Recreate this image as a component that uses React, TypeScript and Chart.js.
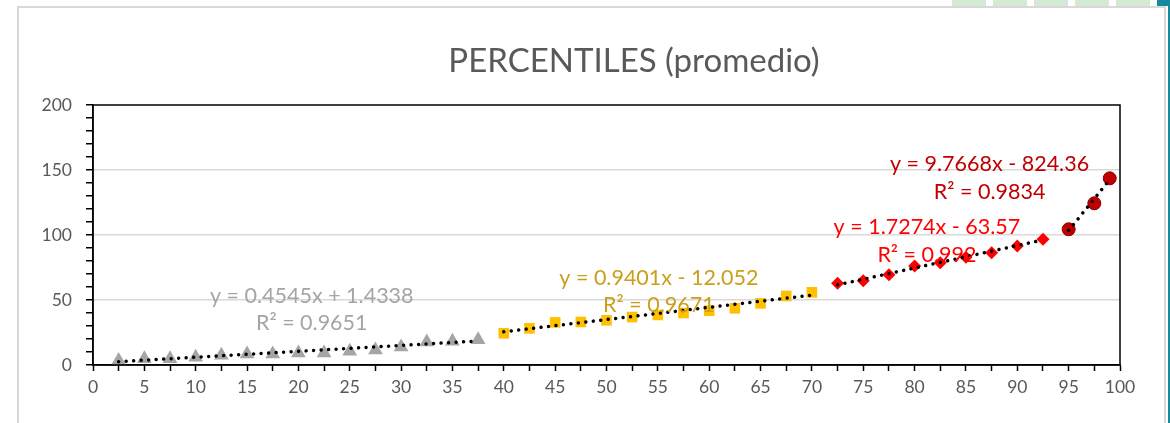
import React, { useEffect, useRef } from "react";
import { Chart, registerables } from "chart.js";

Chart.register(...registerables);

// ---- data ----
const grayX = [2.5, 5, 7.5, 10, 12.5, 15, 17.5, 20, 22.5, 25, 27.5, 30, 32.5, 35, 37.5];
const grayY = [3.4, 4.9, 4.9, 5.9, 7.5, 8.5, 8.5, 9.3, 9.3, 10.6, 11.6, 13.9, 17.7, 18.2, 19.5];
const goldX = [40, 42.5, 45, 47.5, 50, 52.5, 55, 57.5, 60, 62.5, 65, 67.5, 70];
const goldY = [24.4, 28.2, 32.8, 33.1, 34.4, 36.9, 38.5, 40, 41.8, 43.6, 47.4, 53.1, 55.9];
const redX = [72.5, 75, 77.5, 80, 82.5, 85, 87.5, 90, 92.5];
const redY = [62.8, 64.9, 69.5, 76.2, 78.7, 82.8, 86.4, 91.5, 96.7];
const darkX = [95, 97.5, 99];
const darkY = [104.4, 124.4, 143.6];

// trendline coefficients as printed on the chart
const trendSlopes = [0.4545, 0.9401, 1.7274, 9.7668];
const trendIntercepts = [1.4338, -12.052, -63.57, -824.36];
const trendEquations = ["y = 0.4545x + 1.4338", "y = 0.9401x - 12.052", "y = 1.7274x - 63.57", "y = 9.7668x - 824.36"];
const trendR2 = ["R² = 0.9651", "R² = 0.9671", "R² = 0.992", "R² = 0.9834"];

const titleText = "PERCENTILES (promedio)";

// ---- styling ----
const FONT = "Lato, 'Open Sans', sans-serif";
const seriesColors = ["#A5A5A5", "#FFC000", "#FF0000", "#C00000"];
const labelColors = ["#A5A5A5", "#C9A01C", "#FF0000", "#C00000"];
// label anchors (data units)
const labelAnchors = [
  { x: 21.3, y1: 53, y2: 32.3 },
  { x: 55.1, y1: 66.9, y2: 46.2 },
  { x: 81.2, y1: 106.2, y2: 84.6 },
  { x: 87.3, y1: 154.6, y2: 133.3 },
];

const seriesX = [grayX, goldX, redX, darkX];
const seriesY = [grayY, goldY, redY, darkY];

function trendPoints(i: number) {
  const xs = seriesX[i];
  const a = xs[0];
  const b = xs[xs.length - 1];
  return [
    { x: a, y: trendSlopes[i] * a + trendIntercepts[i] },
    { x: b, y: trendSlopes[i] * b + trendIntercepts[i] },
  ];
}

function pts(xs: number[], ys: number[]) {
  return xs.map((x, i) => ({ x, y: ys[i] }));
}

const framePlugin = {
  id: "frame",
  afterDatasetsDraw(chart: any) {
    const { ctx, chartArea, scales } = chart;
    ctx.save();
    // equation labels
    ctx.textAlign = "center";
    ctx.textBaseline = "middle";
    ctx.font = `21.5px ${FONT}`;
    labelAnchors.forEach((a, i) => {
      ctx.fillStyle = labelColors[i];
      const px = scales.x.getPixelForValue(a.x);
      ctx.fillText(trendEquations[i], px, scales.y.getPixelForValue(a.y1));
      ctx.fillText(trendR2[i], px, scales.y.getPixelForValue(a.y2));
    });
    // plot border
    ctx.strokeStyle = "#000";
    ctx.lineWidth = 1.5;
    ctx.strokeRect(chartArea.left, chartArea.top, chartArea.right - chartArea.left, chartArea.bottom - chartArea.top);
    // title
    ctx.fillStyle = "#595959";
    ctx.font = `33px ${FONT}`;
    ctx.fillText(titleText, 634, 61);
    ctx.restore();
  },
};

export default function App() {
  const ref = useRef<HTMLCanvasElement>(null);
  useEffect(() => {
    document.body.style.margin = "0";
    const markerStyles = ["triangle", "rect", "rectRot", "circle"];
    const markerRadius = [8.5, 7.5, 6.5, 6.5];
    const datasets: any[] = [];
    for (let i = 0; i < 4; i++) {
      datasets.push({
        type: "line",
        data: trendPoints(i),
        borderColor: "#000",
        borderWidth: 3.5,
        borderDash: [0.01, 7.5],
        borderCapStyle: "round",
        pointRadius: 0,
        fill: false,
        order: 0,
      });
    }
    for (let i = 0; i < 4; i++) {
      datasets.push({
        type: "scatter",
        data: pts(seriesX[i], seriesY[i]),
        pointStyle: markerStyles[i],
        pointRadius: markerRadius[i],
        backgroundColor: seriesColors[i],
        borderColor: i === 3 ? "#8B0000" : seriesColors[i],
        borderWidth: i === 3 ? 1 : 0,
        order: 1,
      });
    }
    const chart = new Chart(ref.current!, {
      type: "scatter",
      data: { datasets },
      options: {
        animation: false,
        responsive: false,
        devicePixelRatio: 1,
        layout: { padding: { top: 105, left: 0, right: 50, bottom: 0 } },
        plugins: { legend: { display: false }, tooltip: { enabled: false }, title: { display: false } },
        scales: {
          x: {
            type: "linear",
            min: 0,
            max: 100,
            afterFit: (s: any) => { s.height = 58; },
            afterBuildTicks: (s: any) => {
              const t = [];
              for (let v = 0; v <= 100; v += 2.5) t.push({ value: v });
              s.ticks = t;
            },
            ticks: {
              autoSkip: false,
              maxRotation: 0,
              padding: 6,
              color: "#595959",
              font: { family: FONT, size: 17.5 },
              callback: (v: any) => (Number(v) % 5 === 0 ? String(v) : ""),
            },
            grid: { drawOnChartArea: false, drawTicks: true, tickLength: 6, tickColor: "#000", tickWidth: 1.5 },
            border: { display: true, color: "#000", width: 1.5 },
          },
          y: {
            type: "linear",
            min: 0,
            max: 200,
            afterFit: (s: any) => { s.width = 93; },
            ticks: {
              stepSize: 10,
              autoSkip: false,
              padding: 14,
              color: "#595959",
              font: { family: FONT, size: 17.5 },
              callback: (v: any) => (Number(v) % 50 === 0 ? String(v) : ""),
            },
            grid: {
              drawTicks: true,
              tickLength: 7,
              tickColor: "#000",
              tickWidth: 1.5,
              lineWidth: 1.5,
              color: (c: any) => {
                const v = c.tick ? c.tick.value : 0;
                return v % 50 === 0 && v > 0 && v < 200 ? "#D9D9D9" : "rgba(0,0,0,0)";
              },
            },
            border: { display: true, color: "#000", width: 1.5 },
          },
        },
      },
      plugins: [framePlugin],
    });
    return () => chart.destroy();
  }, []);

  const greens = [952, 993, 1034, 1075, 1116];
  return (
    <div style={{ position: "absolute", left: 0, top: 0, width: 1170, height: 423, background: "#fff", overflow: "hidden" }}>
      {greens.map((g) => (
        <div key={g} style={{ position: "absolute", left: g, top: 0, width: 34, height: 6, background: "#D5EAD4" }} />
      ))}
      <div style={{ position: "absolute", left: 1157, top: 0, width: 13, height: 6, background: "#148A9C" }} />
      <div style={{ position: "absolute", left: 1168, top: 0, width: 2, height: 423, background: "#148A9C" }} />
      <div style={{ position: "absolute", left: 17, top: 6, width: 1149, height: 430, border: "2px solid #D9D9D9", boxSizing: "border-box" }} />
      <canvas ref={ref} width={1170} height={423} style={{ position: "absolute", left: 0, top: 0 }} />
    </div>
  );
}
